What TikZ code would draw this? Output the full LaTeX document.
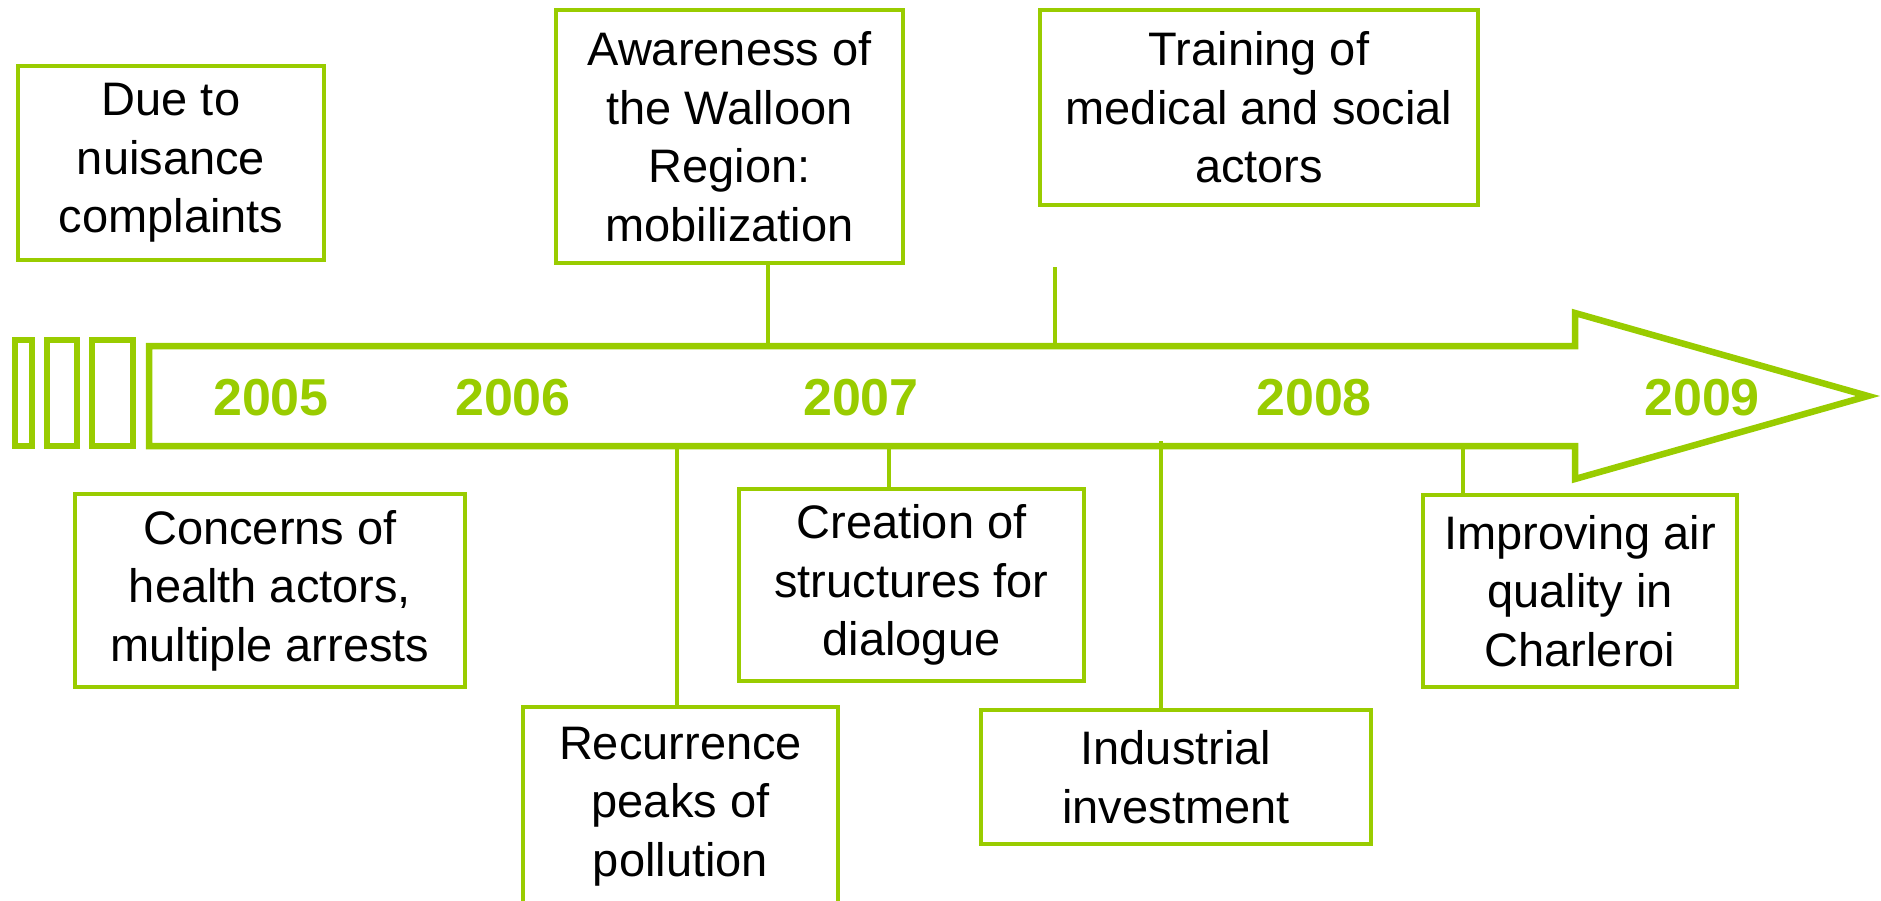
\documentclass[tikz,border=0pt]{standalone}
\usepackage{fontspec}
\setmainfont{Liberation Sans}
\definecolor{lg}{RGB}{153,204,0}
\begin{document}
\begin{tikzpicture}[x=1pt,y=-1pt,
  box/.style={draw=lg, line width=3.7pt, inner sep=0pt, align=center,
    font=\fontsize{47}{58.5}\selectfont, text=black},
  conn/.style={draw=lg, line width=4pt},
  year/.style={text=lg, font=\fontsize{52}{60}\selectfont\bfseries, anchor=base, inner sep=0pt},
  frame/.style={draw=lg, line width=6.5pt, miter limit=20},
  smallframe/.style={draw=lg, line width=6pt}]
\useasboundingbox (0,0) rectangle (1881,900);
\clip (0,0) rectangle (1881,900);

% small leading rectangles
\draw[smallframe] (15,340) rectangle (31.5,445.5);
\draw[smallframe] (46.7,340) rectangle (76.7,445.5);
\draw[smallframe] (92,340) rectangle (133,445.5);

% main arrow
\draw[frame] (149,346) -- (1575,346) -- (1575,313) -- (1868,396) -- (1575,479) -- (1575,446) -- (149,446) -- cycle;

% years
\node[year] (y5) at (271,415) {2005};
\node[year] (y6) at (513,415) {2006};
\node[year] (y7) at (861,415) {2007};
\node[year] (y8) at (1314,415) {2008};
\node[year] (y9) at (1702,415) {2009};

% boxes
\node[box, minimum width=306pt, minimum height=194pt] (due) at (171,163) {Due to\\nuisance\\complaints};
\node[box, minimum width=347pt, minimum height=253pt] (aware) at (729.5,136.5) {Awareness of\\the Walloon\\Region:\\mobilization};
\node[box, minimum width=438pt, minimum height=195pt] (train) at (1259,107.5) {Training of\\medical and social\\actors};
\node[box, minimum width=390pt, minimum height=193pt] (conc) at (270,590.5) {Concerns of\\health actors,\\multiple arrests};
\node[box, minimum width=315pt, minimum height=199pt] (recur) at (680.5,806.5) {Recurrence\\peaks of\\pollution};
\node[box, minimum width=345pt, minimum height=192pt] (creat) at (911.5,585) {Creation of\\structures for\\dialogue};
\node[box, minimum width=390pt, minimum height=134pt] (indus) at (1176,777) {Industrial\\investment};
\node[box, minimum width=314pt, minimum height=192pt] (impr) at (1580,591) {Improving air\\quality in\\Charleroi};

% attachment points on the arrow
\coordinate (pa) at (768,346);
\coordinate (t0) at (1055,267);
\coordinate (pt) at (1055,346);
\coordinate (pr) at (677,446);
\coordinate (pc) at (889,446);
\coordinate (pi) at (1161,441);
\coordinate (pq) at (1463,446);

% connectors
\draw[conn] (aware.south -| pa) -- (pa);
\draw[conn] (t0) -- (pt);
\draw[conn] (pr) -- (recur.north -| pr);
\draw[conn] (pc) -- (creat.north -| pc);
\draw[conn] (pi) -- (indus.north -| pi);
\draw[conn] (pq) -- (impr.north -| pq);
\end{tikzpicture}
\end{document}
